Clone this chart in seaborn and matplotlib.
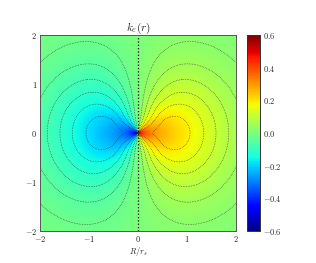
import numpy as np
import pandas as pd
import matplotlib
matplotlib.use("Agg")
import matplotlib.pyplot as plt
import seaborn as sns

# ---- chart content ----
title_text = r"$k_e(r)$"
xlabel_text = r"$R/r_s$"
x_ticks = [-2, -1, 0, 1, 2]
y_ticks = [-2, -1, 0, 1, 2]
cbar_ticks = [-0.6, -0.4, -0.2, 0.0, 0.2, 0.4, 0.6]
value_range = [-0.6, 0.6]
extent = [-2.0, 2.0]

# colour field: radial amplitude profile parameters
spike_amp = 0.10
spike_scale = 0.05
core_amp = 0.36
core_scale = 0.3
bump_amp = 0.20
bump_radius = 0.6
bump_width_in = 1.0
bump_width_out = 1.3
bump_power = 1.8

# overlaid contour field: radial amplitude profile and its drawn levels
line_peak = 0.27
line_base = 0.235
line_radius = 0.65
line_width_in = 0.25
line_width_out = 1.35
line_power = 1.8
contour_levels = [-0.24, -0.20, -0.16, -0.12, -0.08, -0.04, 0.04, 0.08, 0.12, 0.16, 0.20, 0.24]

# ---- build the fields ----
N = 801
xs = np.linspace(extent[0], extent[1], N)
ys = np.linspace(extent[0], extent[1], N)
X, Y = np.meshgrid(xs, ys)
R = np.hypot(X, Y)
cos_t = np.divide(X, R, out=np.zeros_like(X), where=R > 0)

d = R - bump_radius
w = np.where(d < 0, bump_width_in, bump_width_out)
amp = (spike_amp * np.exp(-R / spike_scale) + core_amp * np.exp(-R / core_scale)
       + bump_amp * np.exp(-(np.abs(d) / w) ** bump_power))
Z = amp * cos_t

dl = R - line_radius
amp_in = line_base + (line_peak - line_base) * np.exp(-(dl / line_width_in) ** 2)
amp_out = line_peak * np.exp(-(np.clip(dl, 0, None) / line_width_out) ** line_power)
G = np.where(dl < 0, amp_in, amp_out) * cos_t

h = (extent[1] - extent[0]) / (N - 1)
Zplot = Z[::-1]  # row 0 at top (y = +2)
Gplot = G[::-1]
df = pd.DataFrame(Zplot)

# ---- style ----
sns.set_style("white")
plt.rcParams["mathtext.fontset"] = "cm"
plt.rcParams["font.family"] = ["DejaVu Serif"]

fig = plt.figure(figsize=(3.16, 2.63), dpi=100)
ax = fig.add_axes([40 / 316, 1 - 231 / 263, 196 / 316, 196 / 263])
cax = fig.add_axes([247 / 316, 1 - 231 / 263, 13 / 316, 196 / 263])

sns.heatmap(df, ax=ax, cbar_ax=cax, cmap="jet", vmin=value_range[0], vmax=value_range[1],
            xticklabels=False, yticklabels=False, rasterized=True)

idx = np.arange(N) + 0.5
ax.contour(idx, idx, Gplot, levels=contour_levels, colors="0.15", linewidths=0.45, linestyles="dotted")
ax.contour(idx, idx, Zplot, levels=[0.0], colors="k", linewidths=0.9, linestyles="dotted")

def xpos(v):
    return (v - extent[0]) / h + 0.5

def ypos(v):
    return (extent[1] - v) / h + 0.5

ax.set_xlim(xpos(extent[0]), xpos(extent[1]))
ax.set_ylim(ypos(extent[0]), ypos(extent[1]))
ax.set_xticks([xpos(v) for v in x_ticks])
ax.set_xticklabels([r"$%g$" % v if v >= 0 else r"$-%g$" % abs(v) for v in x_ticks])
ax.set_yticks([ypos(v) for v in y_ticks])
ax.set_yticklabels([r"$%g$" % v if v >= 0 else r"$-%g$" % abs(v) for v in y_ticks], rotation=0)
ax.tick_params(direction="in", length=3, width=0.5, top=True, right=True, bottom=True, left=True,
               labelsize=6, pad=2, color="#444444")
for s in ax.spines.values():
    s.set_visible(True)
    s.set_color("#555555")
    s.set_linewidth(0.7)

ax.set_title(title_text, fontsize=8, pad=3)
ax.set_xlabel(xlabel_text, fontsize=6, labelpad=1)
ax.set_ylabel("")

cbar = ax.collections[0].colorbar
cbar.set_ticks(cbar_ticks)
cbar.set_ticklabels([r"$%.1f$" % v if v >= 0 else r"$-%.1f$" % abs(v) for v in cbar_ticks])
cbar.ax.tick_params(labelsize=6, length=2.5, width=0.5, direction="in", pad=2)
cbar.outline.set_visible(True)
cbar.outline.set_linewidth(0.7)
cbar.outline.set_edgecolor("#333333")

fig.savefig("out.png", dpi=100)
